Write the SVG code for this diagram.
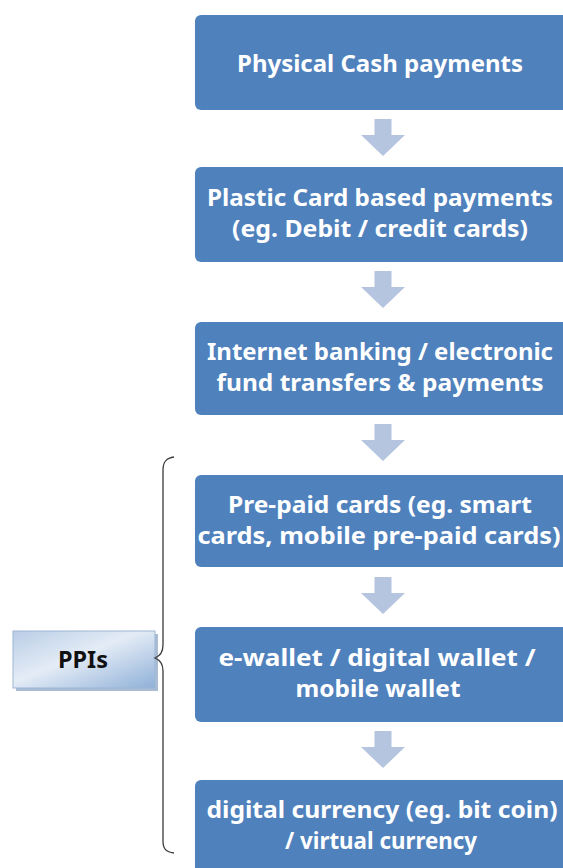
<svg xmlns="http://www.w3.org/2000/svg" width="563" height="868" viewBox="0 0 563 868">
  <style>
    .step rect { fill: #4f81bd; }
    .step text { fill: #ffffff; font-family: "Noto Sans", "Open Sans", "Liberation Sans", sans-serif; font-weight: bold; font-size: 24px; text-anchor: middle; }
    .flow { fill: #b5c5e0; }
    .brace { fill: none; stroke: #3a3a3a; stroke-width: 1.3; }
    .label text { fill: #111111; font-family: "Noto Sans", "Open Sans", "Liberation Sans", sans-serif; font-weight: bold; font-size: 24px; text-anchor: middle; }
  </style>
  <defs>
    <linearGradient id="ppiFill" x1="0" y1="0" x2="1" y2="1">
      <stop offset="0" stop-color="#b9cde6"/>
      <stop offset="0.45" stop-color="#e4ecf6"/>
      <stop offset="1" stop-color="#8fb0d8"/>
    </linearGradient>
    <path id="downArrow" d="M-8.5 0 H8.5 V16 H22 L0 37 L-22 16 H-8.5 Z"/>
  </defs>
  <rect width="563" height="868" fill="#ffffff"/>

  <!-- payment evolution steps -->
  <g id="cash" class="step">
    <rect x="195" y="15" width="378" height="95" rx="6"/>
    <text x="380" y="72" textLength="286" lengthAdjust="spacingAndGlyphs">Physical Cash payments</text>
  </g>
  <g id="card" class="step">
    <rect x="195" y="167" width="378" height="95" rx="6"/>
    <text x="380" y="205.5" textLength="346" lengthAdjust="spacingAndGlyphs">Plastic Card based payments</text>
    <text x="380" y="236.5" textLength="296" lengthAdjust="spacingAndGlyphs">(eg. Debit / credit cards)</text>
  </g>
  <g id="netbanking" class="step">
    <rect x="195" y="322" width="378" height="93" rx="6"/>
    <text x="380" y="360" textLength="346" lengthAdjust="spacingAndGlyphs">Internet banking / electronic</text>
    <text x="380" y="391" textLength="327" lengthAdjust="spacingAndGlyphs">fund transfers &amp; payments</text>
  </g>
  <g id="prepaid" class="step">
    <rect x="195" y="475" width="378" height="92" rx="6"/>
    <text x="380" y="512.5" textLength="304" lengthAdjust="spacingAndGlyphs">Pre-paid cards (eg. smart</text>
    <text x="379" y="543.5" textLength="363" lengthAdjust="spacingAndGlyphs">cards, mobile pre-paid cards)</text>
  </g>
  <g id="ewallet" class="step">
    <rect x="195" y="627" width="378" height="95" rx="6"/>
    <text x="377" y="665.5" textLength="317" lengthAdjust="spacingAndGlyphs">e-wallet / digital wallet /</text>
    <text x="378" y="696.5" textLength="165" lengthAdjust="spacingAndGlyphs">mobile wallet</text>
  </g>
  <g id="digitalcurrency" class="step">
    <rect x="195" y="780" width="378" height="100" rx="6"/>
    <text x="382" y="818" textLength="351" lengthAdjust="spacingAndGlyphs">digital currency (eg. bit coin)</text>
    <text x="381" y="849" textLength="192" lengthAdjust="spacingAndGlyphs">/ virtual currency</text>
  </g>

  <!-- PPIs label -->
  <g id="ppis" class="label">
    <rect x="16" y="634" width="142" height="57" fill="#a9bcd3"/>
    <rect x="13" y="631" width="142" height="57" fill="url(#ppiFill)" stroke="#9fb6d4" stroke-width="1"/>
    <text x="83" y="668" textLength="50" lengthAdjust="spacingAndGlyphs">PPIs</text>
  </g>

  <!-- connectors -->
  <g id="connectors">
    <use href="#downArrow" class="flow" x="383" y="119"/>
    <use href="#downArrow" class="flow" x="383" y="271"/>
    <use href="#downArrow" class="flow" x="383" y="424"/>
    <use href="#downArrow" class="flow" x="383" y="577"/>
    <use href="#downArrow" class="flow" x="383" y="731"/>
    <path class="brace" d="M174 457 C166 458 163 462 163 470 L163 645 C163 652 160 656 155 658 C160 660 163 664 163 671 L163 841 C163 849 166 852 174 853"/>
  </g>
</svg>
